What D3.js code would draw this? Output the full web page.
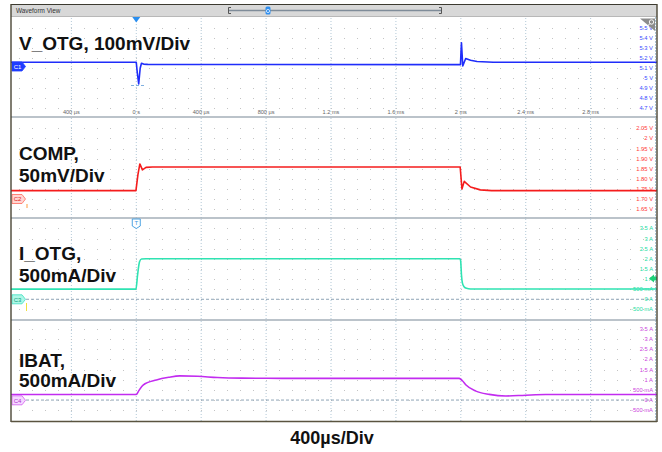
<!DOCTYPE html>
<html>
<head>
<meta charset="utf-8">
<script src="https://cdn.jsdelivr.net/npm/d3@7"></script>
<style>
  html, body { margin: 0; padding: 0; background: #fff; }
  svg { display: block; font-family: "Liberation Sans", Arial, sans-serif; }
</style>
</head>
<body>
<div id="chart"></div>
<script>
// time axis (µs)
const timeTicks = [-400, 0, 400, 800, 1200, 1600, 2000, 2400, 2800, 3200];
const timeTickLabels = ['400 µs', '0 s', '400 µs', '800 µs', '1.2 ms', '1.6 ms', '2 ms', '2.4 ms', '2.8 ms', ''];

// channel scale labels
const vOtgTicks = [5.5, 5.4, 5.3, 5.2, 5.1, 5.0, 4.9, 4.8, 4.7];
const vOtgTickLabels = ['5.5 V', '5.4 V', '5.3 V', '5.2 V', '5.1 V', '5 V', '4.9 V', '4.8 V', '4.7 V'];
const compTicks = [2.05, 2.0, 1.95, 1.9, 1.85, 1.8, 1.75, 1.7, 1.65];
const compTickLabels = ['2.05 V', '2 V', '1.95 V', '1.90 V', '1.85 V', '1.80 V', '1.75 V', '1.70 V', '1.65 V'];
const ampTicks = [3.5, 3, 2.5, 2, 1.5, 1, 0.5, 0, -0.5];
const ampTickLabels = ['3.5 A', '3 A', '2.5 A', '2 A', '1.5 A', '1 A', '500 mA', '0 A', '-500 mA'];

// waveforms (time in µs)
const vOtgTime = [-780, 0, 6, 15, 24, 32, 45, 70, 120, 1998, 2001, 2004, 2012, 2030, 2060, 2100, 2200, 3220];
const vOtgVolts = [5.161, 5.160, 5.06, 4.943, 5.10, 5.150, 5.142, 5.139, 5.138, 5.137, 5.26, 5.356, 5.123, 5.198, 5.180, 5.168, 5.161, 5.160];

const compTime = [-780, -2, 10, 22, 38, 60, 100, 1996, 2002, 2007, 2021, 2060, 2120, 2190, 3220];
const compVolts = [1.742, 1.742, 1.82, 1.874, 1.845, 1.857, 1.859, 1.859, 1.80, 1.75, 1.788, 1.760, 1.746, 1.742, 1.742];

const iOtgTime = [-780, -2, 8, 20, 32, 60, 1994, 1999, 2004, 2010, 2020, 2035, 2060, 3220];
const iOtgAmps = [0.50, 0.50, 1.2, 1.85, 1.99, 2.0, 2.0, 1.9, 1.2, 0.8, 0.62, 0.54, 0.51, 0.51];

const ibatTime = [-780, 0, 15, 42, 124, 200, 268, 380, 500, 650, 900, 1990, 2010, 2032, 2093, 2175, 2278, 2400, 2524, 2730, 3220];
const ibatAmps = [0.27, 0.27, 0.45, 0.74, 0.99, 1.12, 1.19, 1.17, 1.11, 1.08, 1.07, 1.07, 0.95, 0.74, 0.44, 0.28, 0.20, 0.24, 0.27, 0.27, 0.27];

const W = 662, H = 452;
const plotL = 11, plotR = 657;

const svg = d3.select('#chart').append('svg')
  .attr('width', W).attr('height', H);

const x = d3.scaleLinear().domain([-772, 3209]).range([plotL, plotR]);

const channels = [
  { id: 'c1', top: 17, bottom: 117, y: d3.scaleLinear().domain([4.7, 5.5]).range([108.3, 28.3]),
    ticks: vOtgTicks, tickLabels: vOtgTickLabels, t: vOtgTime, v: vOtgVolts,
    color: '#1f2dfa', labelColor: '#3a4cff', title: ['V_OTG, 100mV/Div'], titleY: [50],
    tag: 'C1', tagY: 66.5, tagFill: '#1f3cff', tagStroke: '#1f3cff', tagText: '#fff', curve: d3.curveLinear },
  { id: 'c2', top: 117, bottom: 218, y: d3.scaleLinear().domain([1.65, 2.05]).range([209.3, 128.3]),
    ticks: compTicks, tickLabels: compTickLabels, t: compTime, v: compVolts,
    color: '#f51c1c', labelColor: '#ff3a3a', title: ['COMP,', '50mV/Div'], titleY: [160, 181.5],
    tag: 'C2', tagY: 199, tagFill: '#ffd6d2', tagStroke: '#ff6a5a', tagText: '#e02020', curve: d3.curveLinear },
  { id: 'c3', top: 218, bottom: 320, y: d3.scaleLinear().domain([-0.5, 3.5]).range([309.4, 228.4]),
    ticks: ampTicks, tickLabels: ampTickLabels, t: iOtgTime, v: iOtgAmps,
    color: '#2fe3b2', labelColor: '#22dca0', title: ['I_OTG,', '500mA/Div'], titleY: [260, 281.5],
    tag: 'C3', tagY: 299.3, tagFill: '#aef7e6', tagStroke: '#3ee0c0', tagText: '#10a080', curve: d3.curveMonotoneX, ground: true },
  { id: 'c4', top: 320, bottom: 421, y: d3.scaleLinear().domain([-0.5, 3.5]).range([410.2, 329]),
    ticks: ampTicks, tickLabels: ampTickLabels, t: ibatTime, v: ibatAmps,
    color: '#c22cf0', labelColor: '#cc44dd', title: ['IBAT,', '500mA/Div'], titleY: [366.5, 386.5],
    tag: 'C4', tagY: 400.3, tagFill: '#f5d8ff', tagStroke: '#d25af0', tagText: '#b030d0', curve: d3.curveMonotoneX, ground: true }
];

// clip for each panel
svg.append('defs').selectAll('clipPath').data(channels).enter()
  .append('clipPath').attr('id', d => 'clip-' + d.id)
  .append('rect')
  .attr('x', plotL).attr('y', d => d.top).attr('width', plotR - plotL).attr('height', d => d.bottom - d.top);

const grid = svg.append('g');
const minorT = d3.range(-720, 3209, 80);

channels.forEach(ch => {
  const g = grid.append('g');
  // major vertical dotted lines
  g.selectAll('line.vmaj').data(timeTicks.filter(t => x(t) < plotR - 1)).enter().append('line')
    .attr('x1', d => x(d)).attr('x2', d => x(d))
    .attr('y1', ch.top + 1).attr('y2', ch.bottom)
    .attr('stroke', '#b3c9d8').attr('stroke-width', 1).attr('stroke-dasharray', '1,2');
  // dot rows
  const step = ch.ticks[0] - ch.ticks[1];
  const rows = [ch.ticks[0] + step].concat(ch.ticks).filter(v => ch.y(v) > ch.top + 3 && ch.y(v) < ch.bottom - 2);
  rows.forEach(v => {
    g.selectAll(null).data(minorT).enter().append('rect')
      .attr('x', d => Math.round(x(d))).attr('y', Math.round(ch.y(v)))
      .attr('width', 1).attr('height', 1).attr('fill', '#c4c4c4');
  });
  // ground reference
  if (ch.ground) {
    g.append('line')
      .attr('x1', 26).attr('x2', 652)
      .attr('y1', ch.y(0)).attr('y2', ch.y(0))
      .attr('stroke', '#8ea4b6').attr('stroke-width', 1).attr('stroke-dasharray', '3,2');
  }
  // right scale labels
  g.selectAll('text.tick').data(ch.ticks).enter().append('text')
    .attr('x', 653).attr('y', d => ch.y(d) + 2)
    .attr('text-anchor', 'end').attr('font-size', 5.8)
    .attr('fill', ch.labelColor)
    .text((d, i) => ch.tickLabels[i]);
});

// right edge dotted line
svg.append('line').attr('x1', 655.5).attr('x2', 655.5).attr('y1', 17).attr('y2', 421)
  .attr('stroke', '#a9c3d3').attr('stroke-dasharray', '1,2');

// time labels in first panel
svg.append('g').selectAll('text').data(timeTicks).enter().append('text')
  .attr('x', d => x(d)).attr('y', 114)
  .attr('text-anchor', 'middle').attr('font-size', 5.6).attr('fill', '#666')
  .text((d, i) => timeTickLabels[i]);

// panel separators
svg.append('g').selectAll('line').data([117, 218, 320]).enter().append('line')
  .attr('x1', plotL).attr('x2', plotR).attr('y1', d => d).attr('y2', d => d)
  .attr('stroke', '#a5afb8').attr('stroke-width', 1.5);

// big channel titles
channels.forEach(ch => {
  svg.append('g').selectAll('text').data(ch.title).enter().append('text')
    .attr('x', 19).attr('y', (d, i) => ch.titleY[i])
    .attr('font-size', 19).attr('font-weight', 700).attr('fill', '#111')
    .text(d => d);
});

// traces
channels.forEach(ch => {
  const pts = ch.t.map((t, i) => [t, ch.v[i]]);
  svg.append('path')
    .datum(pts)
    .attr('clip-path', `url(#clip-${ch.id})`)
    .attr('fill', 'none')
    .attr('stroke', ch.color)
    .attr('stroke-width', 1.6)
    .attr('stroke-linejoin', 'round')
    .attr('d', d3.line().x(d => x(d[0])).y(d => ch.y(d[1])).curve(ch.curve));
});

// small cursor under V_OTG dip
svg.append('line').attr('x1', 131).attr('x2', 146).attr('y1', 85.5).attr('y2', 85.5)
  .attr('stroke', '#7fb0e0').attr('stroke-dasharray', '3,2');

// channel tags
channels.forEach(ch => {
  const y0 = ch.tagY;
  const tg = svg.append('g');
  tg.append('path')
    .attr('d', `M12,${y0 - 4.5} L22,${y0 - 4.5} L25.5,${y0} L22,${y0 + 4.5} L12,${y0 + 4.5} Z`)
    .attr('fill', ch.tagFill).attr('stroke', ch.tagStroke).attr('stroke-width', 0.8);
  tg.append('text').attr('x', 17.5).attr('y', y0 + 2.2)
    .attr('text-anchor', 'middle').attr('font-size', 6).attr('fill', ch.tagText)
    .text(ch.tag);
});
// small ticks below C2 / C3 tags
svg.append('line').attr('x1', 27).attr('x2', 27).attr('y1', 204).attr('y2', 208).attr('stroke', '#ff9a40');
svg.append('line').attr('x1', 26.5).attr('x2', 26.5).attr('y1', 303).attr('y2', 311).attr('stroke', '#f0e040');

// green arrow (I_OTG offset marker)
svg.append('path')
  .attr('d', 'M649,278.5 L654,274.5 L654,276.5 L657,276.5 L657,280.5 L654,280.5 L654,282.5 Z')
  .attr('fill', '#1fd07a');

// trigger T marker in I_OTG panel
svg.append('path')
  .attr('d', `M${x(0) - 4},219 L${x(0) + 4},219 L${x(0) + 4},226 L${x(0)},228.5 L${x(0) - 4},226 Z`)
  .attr('fill', '#fff').attr('stroke', '#3a9ae0').attr('stroke-width', 0.9);
svg.append('text').attr('x', x(0)).attr('y', 225.2).attr('text-anchor', 'middle')
  .attr('font-size', 6).attr('fill', '#3a9ae0').text('T');

// top bar
svg.append('rect').attr('x', plotL).attr('y', 4.5).attr('width', plotR - plotL).attr('height', 11.5)
  .attr('fill', '#d8d8d8');
svg.append('line').attr('x1', plotL).attr('x2', plotR).attr('y1', 4.5).attr('y2', 4.5)
  .attr('stroke', '#3c3a30').attr('stroke-width', 1.2);
svg.append('line').attr('x1', plotL).attr('x2', plotR).attr('y1', 16.5).attr('y2', 16.5)
  .attr('stroke', '#b8b8b8').attr('stroke-width', 1);
svg.append('text').attr('x', 16).attr('y', 12.8).attr('font-size', 6.4).attr('fill', '#333')
  .text('Waveform View');
// zoom scroller
svg.append('line').attr('x1', 229).attr('x2', 441).attr('y1', 10.5).attr('y2', 10.5)
  .attr('stroke', '#7f8c99').attr('stroke-width', 1.6);
svg.append('path').attr('d', 'M231,7.5 L228.5,7.5 L228.5,13.5 L231,13.5').attr('fill', 'none').attr('stroke', '#555');
svg.append('path').attr('d', 'M439,7.5 L441.5,7.5 L441.5,13.5 L439,13.5').attr('fill', 'none').attr('stroke', '#555');
svg.append('rect').attr('x', 265.5).attr('y', 6.5).attr('width', 5).attr('height', 8).attr('rx', 1.5)
  .attr('fill', '#2f8ff0');
svg.append('circle').attr('cx', 268).attr('cy', 11).attr('r', 1.6).attr('fill', 'none').attr('stroke', '#fff').attr('stroke-width', 0.7);

// trigger position marker on top
svg.append('path')
  .attr('d', `M${x(0) - 4},17 L${x(0) + 4},17 L${x(0)},22.5 Z`)
  .attr('fill', '#2a8ff0');

// zoom icon top right
svg.append('path').attr('d', 'M640,18.5 L655,18.5 L655,31 Z').attr('fill', '#8c8c8c');
svg.append('circle').attr('cx', 651.5).attr('cy', 22).attr('r', 2.2).attr('fill', 'none').attr('stroke', '#fff').attr('stroke-width', 0.9);
svg.append('line').attr('x1', 650).attr('x2', 647.5).attr('y1', 23.5).attr('y2', 26).attr('stroke', '#fff').attr('stroke-width', 1);

// outer frame
svg.append('line').attr('x1', plotL).attr('x2', plotL).attr('y1', 4).attr('y2', 422)
  .attr('stroke', '#4a4636').attr('stroke-width', 1.4);
svg.append('line').attr('x1', plotR).attr('x2', plotR).attr('y1', 4).attr('y2', 422)
  .attr('stroke', '#4a4636').attr('stroke-width', 1.4);
svg.append('line').attr('x1', plotL).attr('x2', plotR).attr('y1', 421.5).attr('y2', 421.5)
  .attr('stroke', '#5a5440').attr('stroke-width', 1.6);

// bottom caption
svg.append('text').attr('x', 332).attr('y', 444)
  .attr('text-anchor', 'middle').attr('font-size', 18).attr('font-weight', 700).attr('fill', '#111')
  .text('400µs/Div');
</script>
</body>
</html>
